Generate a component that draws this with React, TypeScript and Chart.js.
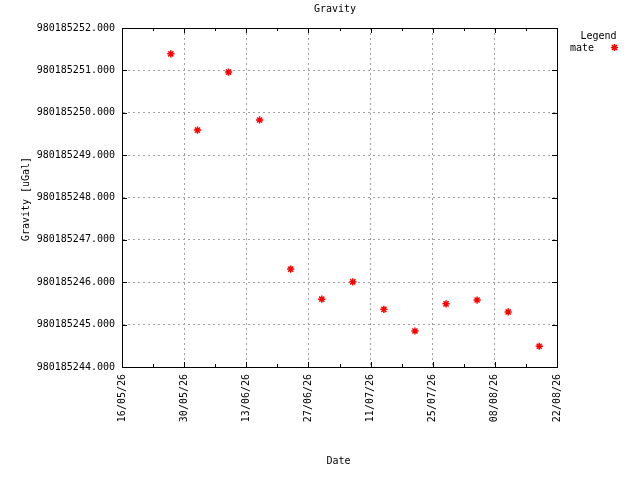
import React, { useEffect, useRef } from "react";
import Chart from "chart.js/auto";

// axis range and ticks
const startDate = "2026-05-16";
const endDate = "2026-08-22";
const xMajorDays = 14;
const xMinorDays = 7;
const yMin = 980185244;
const yMax = 980185252;
const yStep = 1;

// measurements
const dates = [
  "2026-05-27", "2026-06-02", "2026-06-09", "2026-06-16", "2026-06-23",
  "2026-06-30", "2026-07-07", "2026-07-14", "2026-07-21", "2026-07-28",
  "2026-08-04", "2026-08-11", "2026-08-18",
];
const gravity = [
  980185251.39, 980185249.59, 980185250.96, 980185249.83, 980185246.31,
  980185245.6, 980185246.01, 980185245.36, 980185244.85, 980185245.49,
  980185245.58, 980185245.3, 980185244.49,
];

const chartTitle = "Gravity";
const xTitle = "Date";
const yTitle = "Gravity [uGal]";
const legendTitle = "Legend";
const seriesName = "mate";

const FONT = "DejaVu Sans Mono";
const DAY = 86400000;
const t0 = Date.parse(startDate + "T00:00:00Z");
const dayOf = (s: string) => Math.round((Date.parse(s + "T00:00:00Z") - t0) / DAY);
const pad2 = (n: number) => String(n).padStart(2, "0");
const fmtDate = (d: number) => {
  const t = new Date(t0 + d * DAY);
  return `${pad2(t.getUTCDate())}/${pad2(t.getUTCMonth() + 1)}/${pad2(t.getUTCFullYear() % 100)}`;
};

const drawStar = (ctx: CanvasRenderingContext2D, x: number, y: number, r: number) => {
  ctx.beginPath();
  ctx.moveTo(x - r, y); ctx.lineTo(x + r, y);
  ctx.moveTo(x, y - r); ctx.lineTo(x, y + r);
  const d = r * 0.707;
  ctx.moveTo(x - d, y - d); ctx.lineTo(x + d, y + d);
  ctx.moveTo(x - d, y + d); ctx.lineTo(x + d, y - d);
  ctx.stroke();
};

// gnuplot style frame: full border with inward ticks on all sides
const framePlugin = {
  id: "frame",
  beforeDatasetsDraw(chart: any) {
    const { ctx, chartArea: a, scales } = chart;
    const xs = scales.x;
    const ys = scales.y;
    ctx.save();
    ctx.strokeStyle = "#000";
    ctx.lineWidth = 1;
    ctx.strokeRect(a.left + 0.5, a.top + 0.5, a.right - a.left, a.bottom - a.top);
    ctx.beginPath();
    for (let d = xs.min; d <= xs.max; d += xMinorDays) {
      const px = Math.round(xs.getPixelForValue(d)) + 0.5;
      const len = (d - xs.min) % xMajorDays === 0 ? 5 : 3;
      ctx.moveTo(px, a.bottom); ctx.lineTo(px, a.bottom - len);
      ctx.moveTo(px, a.top); ctx.lineTo(px, a.top + len);
    }
    ys.ticks.forEach((t: any) => {
      const py = Math.round(ys.getPixelForValue(t.value)) + 0.5;
      ctx.moveTo(a.left, py); ctx.lineTo(a.left + 5, py);
      ctx.moveTo(a.right, py); ctx.lineTo(a.right - 5, py);
    });
    ctx.stroke();
    ctx.restore();
  },
  afterDraw(chart: any) {
    const { ctx } = chart;
    ctx.save();
    ctx.fillStyle = "#000";
    ctx.font = `10px "${FONT}"`;
    ctx.textBaseline = "middle";
    ctx.textAlign = "center";
    ctx.fillText(chartTitle, 335, 9);
    ctx.fillText(xTitle, 338.5, 461);
    ctx.save();
    ctx.translate(26, 199);
    ctx.rotate(-Math.PI / 2);
    ctx.fillText(yTitle, 0, 0);
    ctx.restore();
    ctx.textAlign = "right";
    ctx.fillText(legendTitle, 616.5, 36);
    ctx.textAlign = "left";
    ctx.fillText(seriesName, 570, 48);
    ctx.strokeStyle = "#ff0000";
    ctx.lineWidth = 1.5;
    drawStar(ctx, 614.5, 47.5, 3.6);
    ctx.restore();
  },
};

const GravityChart = () => {
  const canvasRef = useRef<HTMLCanvasElement>(null);

  useEffect(() => {
    const chart = new Chart(canvasRef.current!, {
      type: "scatter",
      data: {
        datasets: [
          {
            label: seriesName,
            data: dates.map((d, i) => ({ x: dayOf(d), y: gravity[i] })),
            pointStyle: "star",
            pointRadius: 3.6,
            borderColor: "#ff0000",
            backgroundColor: "#ff0000",
            borderWidth: 1.5,
            showLine: false,
          },
        ],
      },
      options: {
        animation: false,
        responsive: true,
        maintainAspectRatio: false,
        layout: { padding: { left: 0, top: 28, right: 83, bottom: 0 } },
        plugins: {
          legend: { display: false },
          tooltip: { enabled: false },
          title: { display: false },
        },
        scales: {
          x: {
            type: "linear",
            min: 0,
            max: dayOf(endDate),
            afterFit: (s: any) => { s.height = 113; },
            grid: { color: "#a0a0a0", lineWidth: 1, drawTicks: false },
            border: { display: true, color: "#000", dash: [2, 3] },
            ticks: {
              stepSize: xMajorDays,
              minRotation: 90,
              maxRotation: 90,
              padding: 7,
              color: "#000",
              font: { family: FONT, size: 10 },
              callback: (v: any) => fmtDate(Number(v)),
            },
          },
          y: {
            min: yMin,
            max: yMax,
            afterFit: (s: any) => { s.width = 122; },
            grid: { color: "#a0a0a0", lineWidth: 1, drawTicks: false },
            border: { display: true, color: "#000", dash: [2, 3] },
            ticks: {
              stepSize: yStep,
              padding: 7,
              color: "#000",
              font: { family: FONT, size: 10 },
              callback: (v: any) => Number(v).toFixed(3),
            },
          },
        },
      },
      plugins: [framePlugin],
    });
    return () => chart.destroy();
  }, []);

  return (
    <div style={{ position: "absolute", left: 0, top: 0, width: 640, height: 480, background: "#fff" }}>
      <canvas ref={canvasRef} />
    </div>
  );
};

export default function App() {
  return <GravityChart />;
}
